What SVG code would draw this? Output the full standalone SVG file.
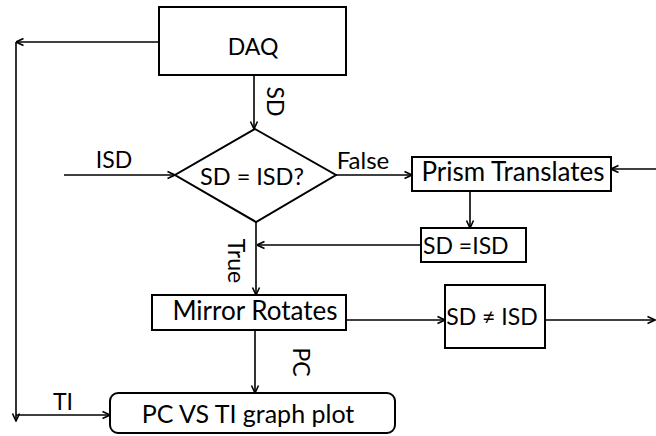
<svg xmlns="http://www.w3.org/2000/svg" width="656" height="436" viewBox="0 0 656 436">
  <style>
    .box { fill: #fff; stroke: #000; stroke-width: 2; }
    .ln { fill: none; stroke: #000; stroke-width: 1.6; }
    .arr { marker-end: url(#head); }
    text { font-family: Lato, "Open Sans", sans-serif; font-size: 23px; fill: #000; }
    .c { text-anchor: middle; }
    .big { font-size: 26px; }
  </style>
  <defs>
    <marker id="head" viewBox="0 0 10 10" refX="9.5" refY="5" markerWidth="10" markerHeight="10" markerUnits="userSpaceOnUse" orient="auto">
      <path d="M2,1.5 L9.5,5 L2,8.5" fill="none" stroke="#000" stroke-width="1.6"/>
    </marker>
  </defs>

  <!-- connectors -->
  <g id="connectors">
    <path class="ln arr" d="M159,42 H16"/>
    <path class="ln arr" d="M16,42 V421"/>
    <path class="ln arr" d="M16,415 H110"/>
    <path class="ln arr" d="M254,75 V129"/>
    <path class="ln arr" d="M64,175 H175"/>
    <path class="ln arr" d="M336,175 H412"/>
    <path class="ln arr" d="M656,169 H611"/>
    <path class="ln arr" d="M470,191 V228"/>
    <path class="ln arr" d="M421,245 H257"/>
    <path class="ln arr" d="M256,222 V295"/>
    <path class="ln arr" d="M346,320 H445"/>
    <path class="ln arr" d="M545,320 H655"/>
    <path class="ln arr" d="M255,330 V393"/>
    <text transform="translate(267,101.5) rotate(90)" class="c">SD</text>
    <text x="114" y="168" class="c">ISD</text>
    <text x="363" y="169" class="c" style="font-size:24px">False</text>
    <text transform="translate(228,261) rotate(90)" class="c">True</text>
    <text transform="translate(293,362) rotate(90)" class="c">PC</text>
    <text x="63" y="410" class="c">TI</text>
  </g>

  <g id="daq">
    <rect class="box" x="159" y="7" width="187" height="68"/>
    <text x="253" y="55" class="c">DAQ</text>
  </g>

  <g id="decision">
    <path class="box" d="M255,129 L336,175 L256,222 L175,175 Z"/>
    <text x="252" y="185" class="c" style="font-size:23.5px">SD = ISD?</text>
  </g>

  <g id="prism">
    <rect class="box" x="412" y="157" width="199" height="34"/>
    <text x="513" y="181" class="c big">Prism Translates</text>
  </g>

  <g id="reset">
    <rect class="box" x="421" y="228" width="105" height="34"/>
    <text x="423" y="254">SD =ISD</text>
  </g>

  <g id="mirror">
    <rect class="box" x="152" y="295" width="194" height="35"/>
    <text x="255" y="320" class="c big">Mirror Rotates</text>
  </g>

  <g id="mismatch">
    <rect class="box" x="445" y="285" width="100" height="63"/>
    <text x="492" y="325" class="c">SD ≠ ISD</text>
  </g>

  <g id="plot">
    <rect class="box" x="110" y="393" width="285" height="40" rx="8" ry="8"/>
    <text x="248" y="423" class="c" style="font-size:25px">PC VS TI graph plot</text>
  </g>
</svg>
